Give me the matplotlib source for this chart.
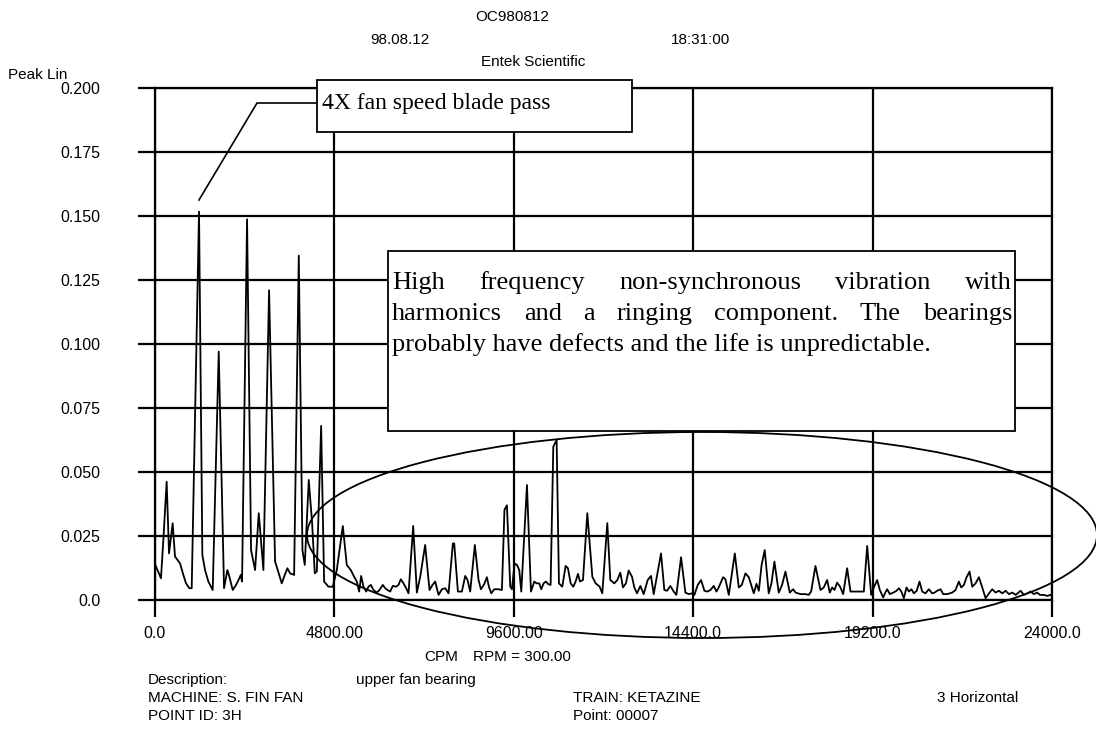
import numpy as np
import matplotlib
matplotlib.use("Agg")
import matplotlib.pyplot as plt
from matplotlib.patches import Rectangle, Ellipse
from matplotlib.lines import Line2D

plt.rcParams['font.family'] = ['Liberation Sans', 'DejaVu Sans']

# spectrum: CPM, peak amplitude
cpm = [0, 160, 223, 312, 375, 473, 535, 670, 759, 830, 919, 982, 1178, 1267, 1339, 1428, 1544,
       1705, 1847, 1937, 1990, 2080, 2169, 2258, 2294, 2329, 2463, 2570, 2678, 2776, 2900, 3052,
       3213, 3284, 3391, 3454, 3543, 3615, 3722, 3847, 3945, 4007, 4114, 4204, 4275, 4329, 4445,
       4525, 4641, 4757, 4864, 5025, 5131, 5239, 5328, 5400, 5462, 5516, 5578, 5650, 5712, 5774,
       5845, 5934, 6006, 6095, 6158, 6220, 6291, 6363, 6452, 6515, 6577, 6649, 6720, 6783, 6908,
       7007, 7096, 7228, 7345, 7425, 7497, 7586, 7676, 7765, 7854, 7970, 8006, 8104, 8211, 8300,
       8363, 8433, 8558, 8657, 8720, 8809, 8880, 8934, 8997, 9077, 9193, 9282, 9350, 9416, 9505,
       9550, 9621, 9684, 9746, 9800, 9952, 10059, 10148, 10210, 10281, 10335, 10397, 10460, 10522,
       10585, 10657, 10746, 10808, 10897, 10987, 11049, 11121, 11192, 11254, 11317, 11370, 11451,
       11567, 11701, 11790, 11897, 11968, 12102, 12182, 12289, 12370, 12450, 12521, 12600, 12673,
       12762, 12825, 12896, 12986, 13075, 13182, 13271, 13343, 13539, 13628, 13700, 13789, 13878,
       13950, 14075, 14191, 14281, 14370, 14432, 14522, 14611, 14700, 14780, 14861, 14950, 15021,
       15083, 15199, 15262, 15352, 15513, 15620, 15700, 15798, 15888, 15959, 16021, 16093, 16156,
       16230, 16314, 16421, 16493, 16573, 16689, 16778, 16868, 16984, 17074, 17140, 17269, 17403,
       17492, 17555, 17671, 17805, 17894, 17983, 18054, 18117, 18180, 18251, 18330, 18412, 18519,
       18608, 18715, 18876, 18965, 19055, 19162, 19233, 19322, 19394, 19483, 19540, 19590, 19661,
       19768, 19840, 19902, 19970, 20036, 20107, 20170, 20240, 20304, 20380, 20455, 20527, 20616,
       20705, 20795, 20860, 20928, 21018, 21089, 21196, 21330, 21419, 21508, 21571, 21643, 21714,
       21794, 21866, 21955, 22044, 22134, 22223, 22313, 22402, 22490, 22580, 22670, 22759, 22848,
       22937, 23030, 23160, 23249, 23339, 23428, 23517, 23600, 23678, 23780, 23874, 23964, 24000]
amp = [0.0140, 0.0085, 0.0234, 0.0462, 0.0182, 0.0300, 0.0170, 0.0143, 0.0098, 0.0065, 0.0046,
       0.0046, 0.1517, 0.0176, 0.0117, 0.0072, 0.0039, 0.0970, 0.0046, 0.0117, 0.0091, 0.0039,
       0.0059, 0.0085, 0.0098, 0.0072, 0.1487, 0.0195, 0.0117, 0.0339, 0.0117, 0.1210, 0.0150,
       0.0117, 0.0065, 0.0091, 0.0124, 0.0104, 0.0098, 0.1345, 0.0195, 0.0137, 0.0469, 0.0300,
       0.0104, 0.0111, 0.0680, 0.0072, 0.0052, 0.0052, 0.0117, 0.0289, 0.0137, 0.0117, 0.0091,
       0.0072, 0.0033, 0.0094, 0.0052, 0.0033, 0.0052, 0.0059, 0.0039, 0.0029, 0.0039, 0.0059,
       0.0046, 0.0039, 0.0033, 0.0055, 0.0052, 0.0059, 0.0081, 0.0065, 0.0046, 0.0026, 0.0289,
       0.0029, 0.0091, 0.0215, 0.0039, 0.0059, 0.0072, 0.0020, 0.0042, 0.0046, 0.0026, 0.0221,
       0.0221, 0.0033, 0.0033, 0.0094, 0.0078, 0.0033, 0.0215, 0.0078, 0.0042, 0.0062, 0.0089,
       0.0052, 0.0026, 0.0042, 0.0042, 0.0039, 0.0352, 0.0370, 0.0052, 0.0042, 0.0143, 0.0137,
       0.0117, 0.0033, 0.0449, 0.0033, 0.0072, 0.0065, 0.0065, 0.0042, 0.0065, 0.0072, 0.0062,
       0.0059, 0.0599, 0.0625, 0.0065, 0.0052, 0.0133, 0.0124, 0.0065, 0.0052, 0.0072, 0.0102,
       0.0072, 0.0078, 0.0339, 0.0091, 0.0065, 0.0052, 0.0026, 0.0300, 0.0078, 0.0065, 0.0078,
       0.0107, 0.0049, 0.0065, 0.0115, 0.0091, 0.0049, 0.0026, 0.0055, 0.0023, 0.0078, 0.0094,
       0.0023, 0.0182, 0.0039, 0.0036, 0.0055, 0.0033, 0.0020, 0.0167, 0.0029, 0.0023, 0.0026,
       0.0020, 0.0059, 0.0078, 0.0036, 0.0033, 0.0039, 0.0055, 0.0033, 0.0049, 0.0089, 0.0081,
       0.0020, 0.0182, 0.0049, 0.0059, 0.0104, 0.0089, 0.0055, 0.0026, 0.0063, 0.0036, 0.0137,
       0.0195, 0.0026, 0.0065, 0.0150, 0.0029, 0.0059, 0.0111, 0.0029, 0.0042, 0.0029, 0.0023,
       0.0023, 0.0020, 0.0033, 0.0133, 0.0039, 0.0049, 0.0078, 0.0029, 0.0049, 0.0039, 0.0068,
       0.0052, 0.0023, 0.0124, 0.0033, 0.0033, 0.0033, 0.0033, 0.0211, 0.0020, 0.0049, 0.0078,
       0.0039, 0.0010, 0.0029, 0.0042, 0.0023, 0.0030, 0.0036, 0.0046, 0.0033, 0.0007, 0.0049,
       0.0033, 0.0042, 0.0026, 0.0036, 0.0072, 0.0033, 0.0026, 0.0042, 0.0026, 0.0029, 0.0036,
       0.0042, 0.0023, 0.0023, 0.0029, 0.0039, 0.0072, 0.0049, 0.0059, 0.0089, 0.0111, 0.0052,
       0.0065, 0.0089, 0.0049, 0.0007, 0.0026, 0.0042, 0.0029, 0.0036, 0.0026, 0.0036, 0.0023,
       0.0029, 0.0020, 0.0036, 0.0020, 0.0026, 0.0033, 0.0023, 0.0029, 0.0020, 0.0020, 0.0016,
       0.0020, 0.0020]

xticks = [0, 4800, 9600, 14400, 19200, 24000]
xticklabels = ["0.0", "4800.00", "9600.00", "14400.0", "19200.0", "24000.0"]
yticks = [0, 0.025, 0.05, 0.075, 0.1, 0.125, 0.15, 0.175, 0.2]
yticklabels = ["0.0", "0.025", "0.050", "0.075", "0.100", "0.125", "0.150", "0.175", "0.200"]

W, H = 1096, 737
fig = plt.figure(figsize=(W / 100, H / 100), dpi=100)


def fx(x):
    return x / W


def fy(y):
    return 1 - y / H


ax = fig.add_axes([fx(155), fy(600), fx(1052) - fx(155), fy(88) - fy(600)])
ax.plot(cpm, amp, color="black", lw=1.3, zorder=3)
ax.set_xlim(0, 24000)
ax.set_ylim(0, 0.2)
ax.set_xticks(xticks)
ax.set_xticklabels(xticklabels)
ax.set_yticks(yticks)
ax.set_yticklabels(yticklabels)
ax.grid(True, color="black", lw=1.6)
for s in ax.spines.values():
    s.set_linewidth(1.6)
ax.tick_params(axis="both", direction="out", length=12.5, width=1.6, labelsize=11.5)
ax.tick_params(axis="y", pad=27)
ax.tick_params(axis="x", pad=6)

# header / footer text
sans = dict(fontsize=11, va="center")
fig.text(fx(512), fy(17), "OC980812", ha="center", **sans)
fig.text(fx(400), fy(40), "98.08.12", ha="center", **sans)
fig.text(fx(700), fy(40), "18:31:00", ha="center", **sans)
fig.text(fx(533), fy(62), "Entek Scientific", ha="center", **sans)
fig.text(fx(8), fy(75), "Peak Lin", ha="left", **sans)
fig.text(fx(458), fy(657), "CPM", ha="right", **sans)
fig.text(fx(473), fy(657), "RPM = 300.00", ha="left", **sans)
fig.text(fx(148), fy(680), "Description:", ha="left", **sans)
fig.text(fx(356), fy(680), "upper fan bearing", ha="left", **sans)
fig.text(fx(148), fy(698), "MACHINE: S. FIN FAN", ha="left", **sans)
fig.text(fx(573), fy(698), "TRAIN: KETAZINE", ha="left", **sans)
fig.text(fx(937), fy(698), "3 Horizontal", ha="left", **sans)
fig.text(fx(148), fy(716), "POINT ID: 3H", ha="left", **sans)
fig.text(fx(573), fy(716), "Point: 00007", ha="left", **sans)

serif = ['Liberation Serif', 'DejaVu Serif']

# callout for the blade pass peak
fig.patches.append(Rectangle((fx(317), fy(132)), fx(632) - fx(317), fy(80) - fy(132),
                             transform=fig.transFigure, facecolor="white", edgecolor="black",
                             lw=1.3, zorder=5))
fig.text(fx(322), fy(104), "4X fan speed blade pass", family=serif, fontsize=17,
         va="center", ha="left", zorder=6)
fig.lines.append(Line2D([fx(199), fx(257), fx(317)], [fy(200), fy(103), fy(103)],
                        transform=fig.transFigure, color="black", lw=1.2, zorder=5))

# comment box with justified text
fig.patches.append(Rectangle((fx(388), fy(431)), fx(1015) - fx(388), fy(251) - fy(431),
                             transform=fig.transFigure, facecolor="white", edgecolor="black",
                             lw=1.3, zorder=5))
lines = ["High frequency non-synchronous vibration with",
         "harmonics and a ringing component. The bearings",
         "probably have defects and the life is unpredictable."]
baselines = [289, 320, 351]
fsize = 19
renderer = fig.canvas.get_renderer()
left, right = 392, 1012
for i, (txt, yb) in enumerate(zip(lines, baselines)):
    words = txt.split()
    if i == len(lines) - 1:
        fig.text(fx(left), fy(yb), txt, family=serif, fontsize=fsize, va="baseline",
                 ha="left", zorder=6)
        continue
    widths = []
    for w in words:
        t = fig.text(0, 0, w, family=serif, fontsize=fsize)
        widths.append(t.get_window_extent(renderer).width)
        t.remove()
    gap = (right - left - sum(widths)) / (len(words) - 1)
    x = left
    for w, wd in zip(words, widths):
        fig.text(fx(x), fy(yb), w, family=serif, fontsize=fsize, va="baseline",
                 ha="left", zorder=6)
        x += wd + gap

# ellipse round the non-synchronous region
fig.patches.append(Ellipse((fx(702), fy(535)), 790 / W, 206 / H, transform=fig.transFigure,
                           facecolor="none", edgecolor="black", lw=1.3, zorder=5))

fig.savefig("out.png", dpi=100)
